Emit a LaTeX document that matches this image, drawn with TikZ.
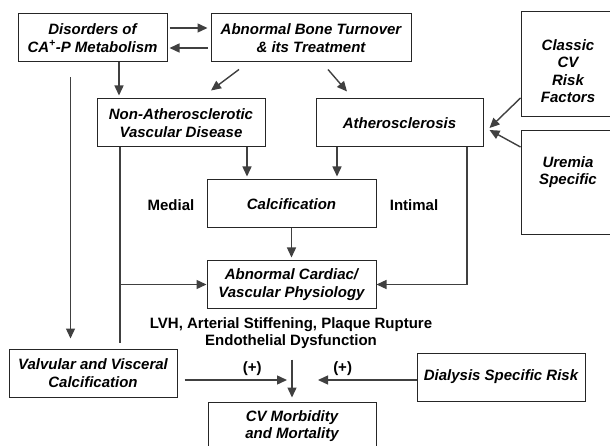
\documentclass[tikz,border=0pt]{standalone}
\usepackage{fontspec}
\setmainfont{Liberation Sans}
\usetikzlibrary{arrows.meta}

\begin{document}
\begin{tikzpicture}[x=1pt, y=-1pt,
    box/.style={draw=black!85, line width=1pt, align=center, inner sep=0pt,
      font=\fontsize{15}{17.3}\selectfont\bfseries\itshape},
    arr/.style={draw=black!75, line width=1.4pt, -{Triangle[length=10pt,width=9pt]}},
    lbl/.style={align=center, font=\fontsize{15}{17}\selectfont\bfseries}]
      \useasboundingbox (0,0) rectangle (610,446);
      \clip (0,0) rectangle (610,446);

      % Boxes
      \node[box, minimum width=149pt, minimum height=48pt] (dis) at (92.5,38)
        {Disorders of\\CA\textsuperscript{+}-P Metabolism};
      \node[box, minimum width=200pt, minimum height=48pt] (bone) at (311,38)
        {Abnormal Bone Turnover\\\& its Treatment};
      \node[box, minimum width=168pt, minimum height=48pt] (nonath) at (181,123)
        {Non-Atherosclerotic\\Vascular Disease};
      \node[box, minimum width=167pt, minimum height=48pt] (ath) at (399.5,123)
        {Atherosclerosis};
      \node[box, minimum width=94pt, minimum height=105pt] (classic) at (568,64.5) {};
      \node[box, draw=none] at ([yshift=-6.5pt]classic.center) {Classic\\CV\\Risk\\Factors};
      \node[box, minimum width=94pt, minimum height=104pt] (uremia) at (568,183) {};
      \node[box, draw=none] at ([yshift=11pt]uremia.center) {Uremia\\Specific};
      \node[box, minimum width=169pt, minimum height=48pt] (calc) at (291.5,204)
        {Calcification};
      \node[box, minimum width=169pt, minimum height=47pt] (card) at (291.5,284.5)
        {Abnormal Cardiac/\\Vascular Physiology};
      \node[box, minimum width=168pt, minimum height=48pt] (valv) at (93,373)
        {Valvular and Visceral\\Calcification};
      \node[box, minimum width=168pt, minimum height=48pt] (dial) at (501,377)
        {Dialysis Specific Risk};
      \node[box, minimum width=168pt, minimum height=48pt] (cvm) at (292,426)
        {CV Morbidity\\and Mortality};

      % Plain labels
      \node[lbl] (medial) at (171,205) {Medial};
      \node[lbl] (intimal) at (414,205) {Intimal};
      \node[lbl] (lvh) at (291,333.5) {LVH, Arterial Stiffening, Plaque Rupture\\Endothelial Dysfunction};
      \coordinate (mid) at (292,380);

      % Top row
      \draw[arr, shorten <=2pt, shorten >=3pt] ([yshift=10pt]dis.east) -- ([yshift=10pt]bone.west);
      \draw[arr, shorten <=3pt, shorten >=2pt] ([yshift=-10pt]bone.west) -- ([yshift=-10pt]dis.east);
      \draw[arr, shorten >=3pt] ([xshift=26.5pt]dis.south) -- ([xshift=-62pt]nonath.north);
      \draw[arr] ([xshift=-72pt,yshift=-7pt]bone.south) -- ([xshift=30pt,yshift=8pt]nonath.north);
      \draw[arr] ([xshift=17pt,yshift=-7pt]bone.south) -- ([xshift=-52.5pt,yshift=7pt]ath.north);
      \draw[arr] ([yshift=-33.5pt]classic.west) -- ([xshift=6pt,yshift=-5pt]ath.east);
      \draw[arr] ([yshift=36pt]uremia.west) -- ([xshift=6pt,yshift=-7pt]ath.east);

      % Into calcification and physiology
      \draw[arr, shorten >=3pt] ([xshift=66pt]nonath.south) -- ([xshift=-44.5pt]calc.north);
      \draw[arr, shorten >=3pt] ([xshift=-62.5pt]ath.south) -- ([xshift=45.5pt]calc.north);
      \draw[arr, shorten >=3pt] (calc.south) -- (card.north);
      \draw[arr] ([xshift=-61pt]nonath.south) |- (card.west);
      \draw[draw=black!75, line width=1.4pt] ([xshift=-61pt]nonath.south) -- ([xshift=27pt,yshift=6pt]valv.north);
      \draw[arr] ([xshift=67.5pt]ath.south) |- (card.east);
      \draw[arr] ([xshift=-22pt,yshift=-15pt]dis.south) -- ([xshift=-22.5pt,yshift=10pt]valv.north);

      % Bottom row
      \draw[arr, shorten <=7pt, shorten >=4pt] (lvh.south -| cvm.north) -- (cvm.north);
      \draw[arr] ([xshift=7pt,yshift=-7pt]valv.east) -- ([xshift=-5pt]mid)
        node[lbl, pos=0.66, above] (plusl) {(+)};
      \draw[arr] ([yshift=-3pt]dial.west) -- ([xshift=26pt]mid)
        node[lbl, pos=0.75, above] (plusr) {(+)};
\end{tikzpicture}
\end{document}
